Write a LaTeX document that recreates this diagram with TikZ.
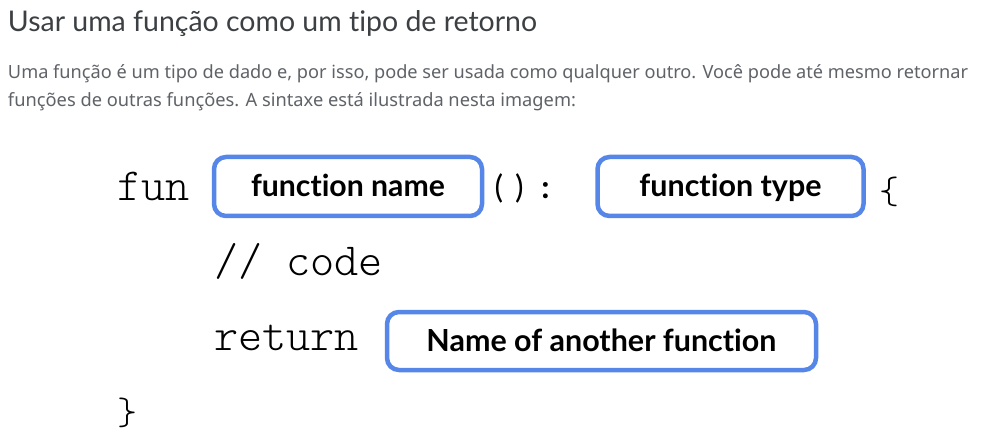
\documentclass[tikz,border=0pt]{standalone}
\usepackage{fontspec}
\usepackage{graphicx}
\newfontfamily\titlefont{Lato}[Ligatures=NoCommon]
\newfontfamily\parafont{Noto Sans}
\newfontfamily\labelfont{Lato}[Ligatures=NoCommon]
\newfontfamily\codelight{lmmonolt10-regular}[Extension=.otf]
\definecolor{titlegray}{HTML}{3C4043}
\definecolor{paragray}{HTML}{5F6368}
\definecolor{boxblue}{HTML}{5686E8}
\tikzset{
  plain/.style={inner sep=0pt, outer sep=0pt},
  codetxt/.style={plain, font=\fontsize{46}{50}\selectfont\codelight, text=black},
  bracetxt/.style={plain, font=\fontsize{38}{42}\selectfont\codelight, text=black},
  symtxt/.style={plain, font=\fontsize{32}{36}\selectfont\labelfont, text=black},
  slot/.style={draw=boxblue, line width=4.5pt, rounded corners=12pt, fill=white,
    inner sep=0pt, text height=21pt, text depth=0pt, text=black},
}
\begin{document}
\begin{tikzpicture}[x=1pt,y=-1pt]
\useasboundingbox (0,0) rectangle (992,435);
\fill[white] (0,0) rectangle (992,435);

% title and paragraph
\node[plain, anchor=base west, text=titlegray] (title) at (8,31.5)
  {\resizebox{529pt}{!}{\titlefont Usar uma função como um tipo de retorno}};
\node[plain, anchor=base west, text=paragray] (para1) at (8,79)
  {\resizebox{960pt}{!}{\parafont Uma função é um tipo de dado e, por isso, pode ser usada como qualquer outro. Você pode até mesmo retornar}};
\node[plain, anchor=base west, text=paragray] (para2) at (8,107)
  {\resizebox{568pt}{!}{\parafont funções de outras funções. A sintaxe está ilustrada nesta imagem:}};

% line 1
\node[codetxt, anchor=base west] (fun) at (117,201) {fun};
\node[slot, minimum width=268pt, minimum height=59pt] (fname) at (348,186.5)
  {\resizebox{194pt}{!}{\labelfont\bfseries function name}};
\node[symtxt] (lpar) at (499,188) {(};
\node[symtxt] (rpar) at (519.5,188) {)};
\node[symtxt, font=\fontsize{32}{36}\selectfont\labelfont\bfseries] (colon) at (545.5,191) {:};
\node[slot, minimum width=266pt, minimum height=59pt] (ftype) at (730.5,186.5)
  {\resizebox{182pt}{!}{\labelfont\bfseries function type}};
\node[bracetxt] (lbrace) at (889,191.5) {\{};

% line 2
\node[codetxt, anchor=base west] (comment) at (214,276) {// code};

% line 3
\node[codetxt, anchor=base west] (ret) at (214,350) {return};
\node[slot, minimum width=429pt, minimum height=58pt] (another) at (601.5,341)
  {\resizebox{350pt}{!}{\labelfont\bfseries Name of another function}};

% line 4
\node[bracetxt] (rbrace) at (127.5,413) {\}};
\end{tikzpicture}
\end{document}
